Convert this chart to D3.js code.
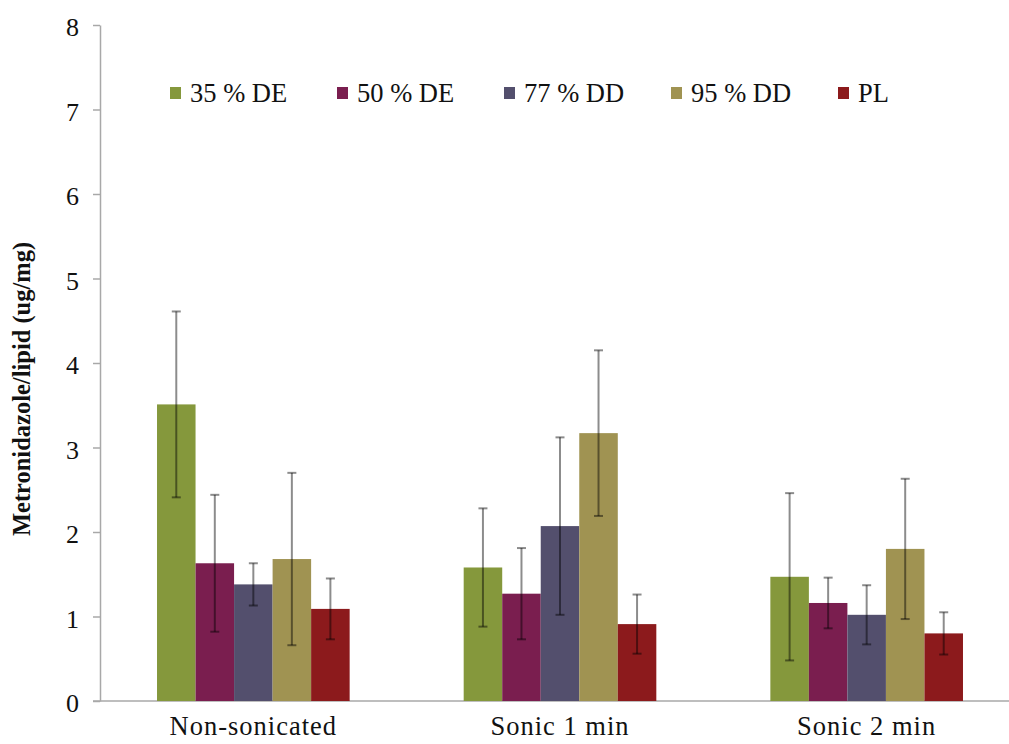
<!DOCTYPE html>
<html>
<head>
<meta charset="utf-8">
<script src="https://cdn.jsdelivr.net/npm/d3@7"></script>
<style>
  html, body { margin: 0; padding: 0; background: #fff; }
  svg { display: block; }
  text { font-family: "Liberation Serif", "Times New Roman", serif; fill: #111; }
</style>
</head>
<body>
<svg id="chart" width="1009" height="744"></svg>
<script>
// Sonication conditions (x categories)
const categories = ["Non-sonicated", "Sonic 1 min", "Sonic 2 min"];

// Formulations (series)
const series = ["35 % DE", "50 % DE", "77 % DD", "95 % DD", "PL"];
const colors = ["#85983c", "#7a1e4f", "#534f6d", "#a09352", "#8c1a1c"];

// Mean metronidazole/lipid ratio (ug/mg), one array per formulation, by category
const de35 = [3.51, 1.58, 1.47];
const de50 = [1.63, 1.27, 1.16];
const dd77 = [1.38, 2.07, 1.02];
const dd95 = [1.68, 3.17, 1.80];
const pl   = [1.09, 0.91, 0.80];

// Standard deviations, same layout
const de35Err = [1.10, 0.70, 0.99];
const de50Err = [0.81, 0.54, 0.30];
const dd77Err = [0.25, 1.05, 0.35];
const dd95Err = [1.02, 0.98, 0.83];
const plErr   = [0.36, 0.35, 0.25];

const yTicks = [0, 1, 2, 3, 4, 5, 6, 7, 8];

const means = [de35, de50, dd77, dd95, pl];
const errs = [de35Err, de50Err, dd77Err, dd95Err, plErr];

const rows = [];
categories.forEach((c, ci) => {
  series.forEach((s, si) => {
    rows.push({ cat: c, ser: s, si, value: means[si][ci], err: errs[si][ci] });
  });
});

const svg = d3.select("#chart");
const margin = { left: 100, right: -11, top: 25, bottom: 43 };
const W = 1009, H = 744;

const y = d3.scaleLinear().domain([0, 8]).range([H - margin.bottom, margin.top]);
const x0 = d3.scaleBand().domain(categories).range([margin.left, W - margin.right]).padding(0);
const x1 = d3.scaleBand().domain(series).range([0, x0.bandwidth()]).paddingInner(0).paddingOuter(1.48);

// Y axis
const yAxis = svg.append("g")
  .attr("transform", `translate(${margin.left},0)`)
  .call(d3.axisLeft(y).tickValues(yTicks).tickSize(7).tickSizeOuter(0).tickPadding(14).tickFormat(d3.format("d")));
yAxis.select(".domain").attr("stroke", "#a8a8a8").attr("stroke-width", 1.5);
yAxis.selectAll(".tick line").attr("stroke", "#a8a8a8").attr("stroke-width", 1.5);
yAxis.selectAll(".tick text").attr("font-size", 26).attr("fill", "#222").attr("dy", "0.42em")
  .style("font-family", null);

// X axis
const xAxis = svg.append("g")
  .attr("transform", `translate(0,${y(0)})`)
  .call(d3.axisBottom(x0).tickSize(0).tickSizeOuter(0).tickPadding(17));
xAxis.select(".domain").attr("stroke", "#a8a8a8").attr("stroke-width", 1.5)
  .attr("d", `M${margin.left - 7},0H${W - margin.right}`);
xAxis.selectAll(".tick text").attr("font-size", 26.5).attr("fill", "#222")
  .attr("letter-spacing", "1px").attr("dy", "0.66em").style("font-family", null);

// Bars
const bars = svg.append("g");
bars.selectAll("rect")
  .data(rows)
  .join("rect")
  .attr("x", d => x0(d.cat) + x1(d.ser))
  .attr("width", x1.bandwidth())
  .attr("y", d => y(d.value))
  .attr("height", d => y(0) - y(d.value))
  .attr("fill", d => colors[d.si]);

// Error bars
const eb = svg.append("g")
  .attr("stroke", "rgba(0,0,0,0.45)")
  .attr("stroke-width", 2)
  .attr("fill", "none");
const cx = d => x0(d.cat) + x1(d.ser) + x1.bandwidth() / 2;
eb.selectAll("line.v").data(rows).join("line").attr("class", "v")
  .attr("x1", cx).attr("x2", cx)
  .attr("y1", d => y(d.value + d.err)).attr("y2", d => y(d.value - d.err));
eb.selectAll("line.t").data(rows).join("line").attr("class", "t")
  .attr("x1", d => cx(d) - 4.5).attr("x2", d => cx(d) + 4.5)
  .attr("y1", d => y(d.value + d.err)).attr("y2", d => y(d.value + d.err));
eb.selectAll("line.b").data(rows).join("line").attr("class", "b")
  .attr("x1", d => cx(d) - 4.5).attr("x2", d => cx(d) + 4.5)
  .attr("y1", d => y(d.value - d.err)).attr("y2", d => y(d.value - d.err));

// Legend
const legendX = d3.scalePoint().domain(series).range([170, 838]);
const legend = svg.append("g").attr("transform", "translate(0,93)");
const li = legend.selectAll("g").data(series).join("g")
  .attr("transform", d => `translate(${legendX(d)},0)`);
li.append("rect").attr("x", 0).attr("y", -6).attr("width", 11).attr("height", 12)
  .attr("fill", (d, i) => colors[i]);
li.append("text").attr("x", 20).attr("dy", "0.35em").attr("font-size", 26.5)
  .attr("fill", "#222").text(d => d);

// Y axis title
svg.append("text")
  .attr("transform", `translate(30,389) rotate(-90)`)
  .attr("text-anchor", "middle")
  .attr("font-size", 24.5)
  .attr("font-weight", "bold")
  .attr("fill", "#111")
  .text("Metronidazole/lipid (ug/mg)");
</script>
</body>
</html>
